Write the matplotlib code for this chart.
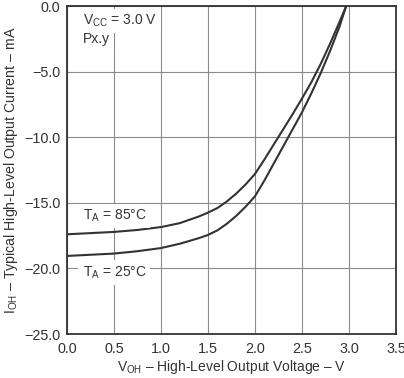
import matplotlib
matplotlib.use('Agg')
import matplotlib.pyplot as plt

plt.rcParams['font.family'] = ['Liberation Sans', 'DejaVu Sans']
plt.rcParams['mathtext.fontset'] = 'custom'
plt.rcParams['mathtext.rm'] = 'Liberation Sans'

# values
v_85 = [0.0, 0.5, 0.75, 1.0, 1.2, 1.4, 1.5, 1.6, 1.7, 1.8, 1.9, 2.0, 2.1, 2.2, 2.3, 2.4, 2.5, 2.6, 2.7, 2.8, 2.9, 2.97]
i_85 = [-17.4, -17.22, -17.07, -16.85, -16.55, -16.05, -15.75, -15.4, -14.9, -14.3, -13.6, -12.8,
        -11.7, -10.55, -9.4, -8.25, -7.05, -5.8, -4.4, -2.85, -1.2, 0.0]

v_25 = [0.0, 0.5, 0.75, 1.0, 1.2, 1.4, 1.5, 1.6, 1.7, 1.8, 1.9, 2.0, 2.1, 2.2, 2.3, 2.4, 2.5, 2.6, 2.7, 2.8, 2.9, 2.97]
i_25 = [-19.05, -18.87, -18.69, -18.45, -18.12, -17.7, -17.45, -17.1, -16.6, -16.0, -15.3, -14.5,
        -13.3, -12.0, -10.7, -9.4, -8.1, -6.65, -5.1, -3.4, -1.55, 0.0]

x_ticks = [0.0, 0.5, 1.0, 1.5, 2.0, 2.5, 3.0, 3.5]
y_ticks = [0.0, -5.0, -10.0, -15.0, -20.0, -25.0]

fig = plt.figure(figsize=(4.04, 3.78), dpi=100)
ax = fig.add_axes([67 / 404, 44 / 378, 329 / 404, 328 / 378])

ax.plot(v_85, i_85, color='#333333', lw=1.5, zorder=3)
ax.plot(v_25, i_25, color='#333333', lw=1.5, zorder=3)

ax.set_xlim(0, 3.5)
ax.set_ylim(-25, 0)
ax.set_xticks(x_ticks)
ax.set_yticks(y_ticks)
ax.set_xticklabels([f'{t:.1f}' for t in x_ticks])
ax.set_yticklabels([f'{t:.1f}'.replace('-', '\u2212') for t in y_ticks])
ax.tick_params(length=0, labelsize=10.4, colors='#333333')
ax.tick_params(axis='y', pad=5)
ax.tick_params(axis='x', pad=6)
ax.grid(True, color='#8a8a8a', lw=0.8)
for s in ax.spines.values():
    s.set_color('#333333')
    s.set_linewidth(1.3)

ax.set_xlabel(r'V$_{\mathregular{OH}}$ – High-Level Output Voltage – V', fontsize=10, color='#333333', labelpad=1)
ax.set_ylabel(r'I$_{\mathregular{OH}}$ – Typical High-Level Output Current – mA', fontsize=10.2, color='#333333', labelpad=3)

box = dict(facecolor='white', edgecolor='none', pad=3)
ax.text(0.165, -1.15, r'V$_{\mathregular{CC}}$ = 3.0 V', fontsize=10, color='#333333', va='center', bbox=box)
ax.text(0.165, -2.55, 'Px.y', fontsize=10, color='#333333', va='center', bbox=box)
ax.text(0.165, -16.0, r'T$_{\mathregular{A}}$ = 85°C', fontsize=10, color='#333333', va='center', bbox=box)
ax.text(0.165, -20.3, r'T$_{\mathregular{A}}$ = 25°C', fontsize=10, color='#333333', va='center', bbox=box)

fig.savefig('out.png', dpi=100)
